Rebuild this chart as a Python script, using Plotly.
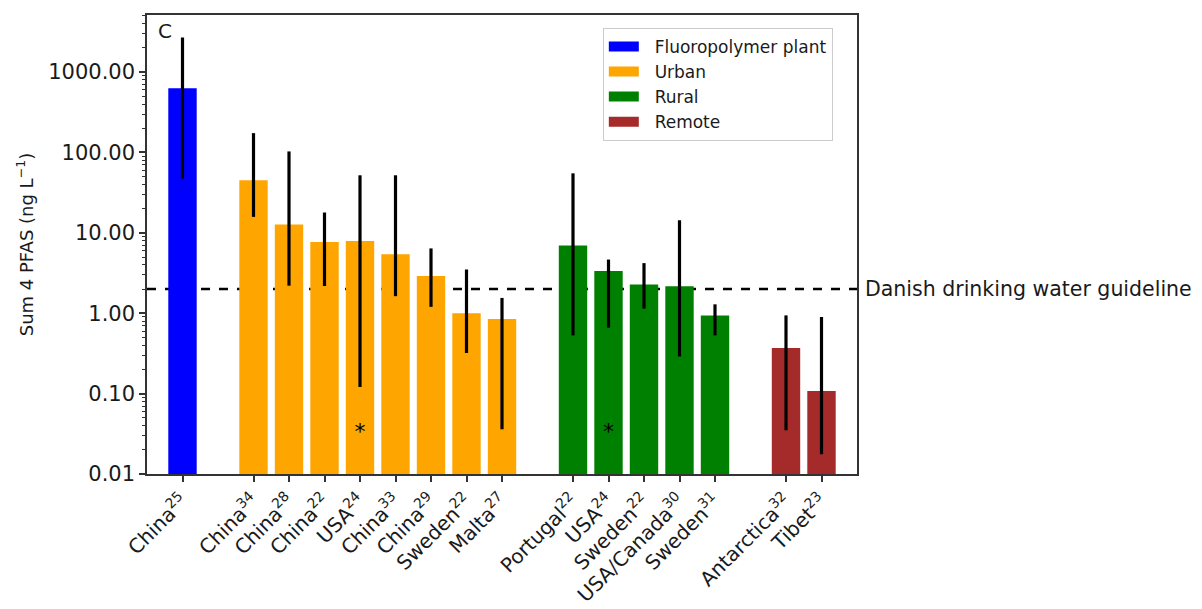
import numpy as np
import plotly.graph_objects as go

# ---- data ----
groups = ["Fluoropolymer plant", "Urban", "Rural", "Remote"]
group_colors = ["#0000ff", "#ffa500", "#008000", "#a52a2a"]

fluoro_labels = ["China<sup>25</sup>"]
fluoro_x = [0]
fluoro_val = [630]
fluoro_hi = [2700]
fluoro_lo = [47]

urban_labels = ["China<sup>34</sup>", "China<sup>28</sup>", "China<sup>22</sup>", "USA<sup>24</sup>",
                "China<sup>33</sup>", "China<sup>29</sup>", "Sweden<sup>22</sup>", "Malta<sup>27</sup>"]
urban_x = [2, 3, 4, 5, 6, 7, 8, 9]
urban_val = [45, 12.7, 7.7, 7.9, 5.4, 2.9, 1.0, 0.85]
urban_hi = [174, 103, 17.9, 52, 52, 6.4, 3.5, 1.55]
urban_lo = [15.8, 2.2, 2.18, 0.121, 1.63, 1.2, 0.32, 0.036]

rural_labels = ["Portugal<sup>22</sup>", "USA<sup>24</sup>", "Sweden<sup>22</sup>",
                "USA/Canada<sup>30</sup>", "Sweden<sup>31</sup>"]
rural_x = [11, 12, 13, 14, 15]
rural_val = [6.95, 3.36, 2.28, 2.17, 0.94]
rural_hi = [55, 4.65, 4.2, 14.3, 1.29]
rural_lo = [0.53, 0.66, 1.14, 0.29, 0.53]

remote_labels = ["Antarctica<sup>32</sup>", "Tibet<sup>23</sup>"]
remote_x = [17, 18]
remote_val = [0.37, 0.108]
remote_hi = [0.94, 0.90]
remote_lo = [0.035, 0.0176]

asterisk_x = [5, 12]
asterisk_y = [0.032, 0.032]

guideline = 2.0
guideline_label = "Danish drinking water guideline"
panel_label = "C"
y_title = "Sum 4 PFAS (ng L<sup>−1</sup>)"

FONT = "DejaVu Sans"
TXT = "#1a1a1a"

fig = go.Figure()

datasets = [
    (fluoro_x, fluoro_val, fluoro_hi, fluoro_lo),
    (urban_x, urban_val, urban_hi, urban_lo),
    (rural_x, rural_val, rural_hi, rural_lo),
    (remote_x, remote_val, remote_hi, remote_lo),
]
for name, color, (xs, vals, his, los) in zip(groups, group_colors, datasets):
    vals = np.array(vals, dtype=float)
    fig.add_trace(go.Bar(
        x=xs, y=vals, name=name, width=0.8, showlegend=False, legendgroup=name,
        marker=dict(color=color, line=dict(width=0)),
        error_y=dict(type="data", symmetric=False,
                     array=np.array(his) - vals,
                     arrayminus=vals - np.array(los),
                     color="black", thickness=3.2, width=0),
    ))

# legend entries drawn as wide colour patches
for name, color in zip(groups, group_colors):
    fig.add_trace(go.Scatter(
        x=[None], y=[None], mode="lines", name="\u00a0\u00a0" + name, legendgroup=name,
        line=dict(color=color, width=13), hoverinfo="skip",
    ))

fig.add_trace(go.Scatter(
    x=asterisk_x, y=asterisk_y, mode="text", text=["*"] * len(asterisk_x),
    textfont=dict(family=FONT, size=22, color="black"), showlegend=False,
    hoverinfo="skip",
))

fig.add_shape(type="line", xref="paper", x0=0, x1=1, yref="y",
              y0=guideline, y1=guideline, layer="below",
              line=dict(color="black", width=2.5, dash="dash"))

fig.add_annotation(xref="paper", x=1.008, xanchor="left", yref="y",
                   y=np.log10(guideline), yanchor="middle",
                   text=guideline_label, showarrow=False,
                   font=dict(family=FONT, size=20.5, color=TXT))

fig.add_annotation(xref="paper", x=0.012, xanchor="left", yref="paper",
                   y=0.995, yanchor="top", text=panel_label, showarrow=False,
                   font=dict(family=FONT, size=20, color=TXT))

all_x = fluoro_x + urban_x + rural_x + remote_x
all_labels = fluoro_labels + urban_labels + rural_labels + remote_labels

fig.update_layout(
    width=1202, height=609,
    margin=dict(l=139, r=353, t=7, b=143, autoexpand=False),
    paper_bgcolor="white", plot_bgcolor="white",
    barmode="overlay",
    font=dict(family=FONT, color=TXT),
    legend=dict(x=0.642, y=0.972, xanchor="left", yanchor="top",
                bgcolor="white", bordercolor="#cccccc", borderwidth=1,
                font=dict(family=FONT, size=17, color=TXT),
                tracegroupgap=0, itemwidth=30),
    xaxis=dict(range=[-1, 19], tickmode="array", tickvals=all_x, ticktext=all_labels,
               tickangle=-45, ticks="outside", ticklen=6, tickwidth=1.5, tickcolor="#333",
               tickfont=dict(family=FONT, size=20, color=TXT), automargin=False,
               showline=True, linecolor="#333", linewidth=1.5, mirror=True,
               showgrid=False, zeroline=False),
    yaxis=dict(type="log", range=[-2, 3.71], dtick=1, tickformat=".2f",
               ticks="outside", ticklen=6, tickwidth=1.5, tickcolor="#333",
               minor=dict(ticks="outside", ticklen=3, tickwidth=1, tickcolor="#333",
                          dtick="D1", showgrid=False),
               tickfont=dict(family=FONT, size=21, color=TXT), automargin=False,
               title=dict(text=y_title, font=dict(family=FONT, size=18, color=TXT), standoff=10),
               showline=True, linecolor="#333", linewidth=1.5, mirror=True,
               showgrid=False, zeroline=False),
)

fig.write_html("out.html")
